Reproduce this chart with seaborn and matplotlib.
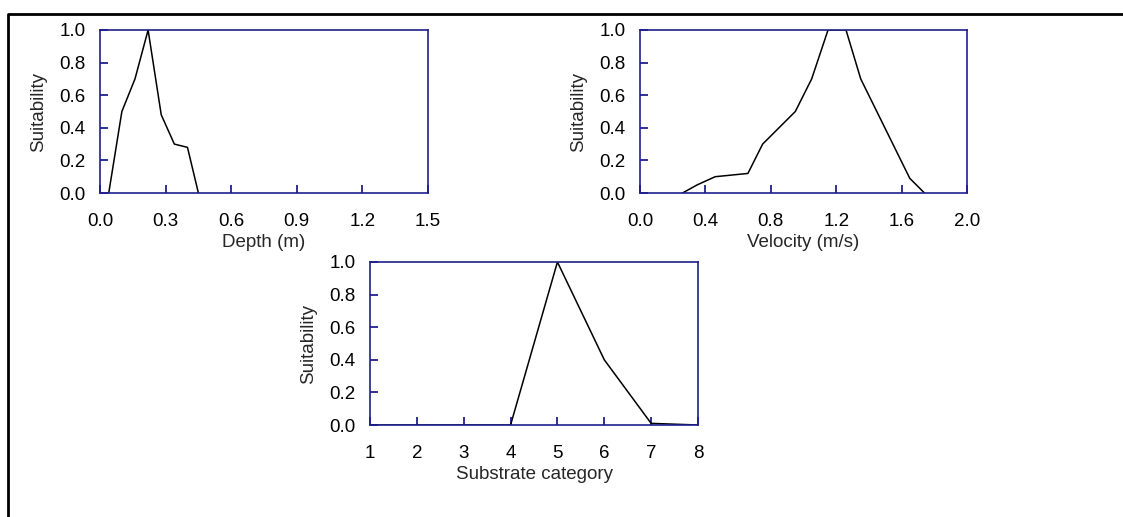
import matplotlib
matplotlib.use('Agg')
import matplotlib.pyplot as plt
import seaborn as sns
import pandas as pd
from matplotlib.lines import Line2D

# habitat suitability curves
depth_x = [0.04, 0.10, 0.16, 0.22, 0.28, 0.34, 0.40, 0.45]
depth_y = [0.0, 0.50, 0.70, 1.0, 0.48, 0.30, 0.28, 0.0]

vel_x = [0.26, 0.35, 0.46, 0.66, 0.75, 0.95, 1.05, 1.15, 1.26, 1.35, 1.65, 1.74]
vel_y = [0.0, 0.05, 0.10, 0.12, 0.30, 0.50, 0.70, 1.0, 1.0, 0.70, 0.09, 0.0]

sub_x = [1, 2, 3, 4, 5, 6, 7, 8]
sub_y = [0.0, 0.0, 0.0, 0.0, 1.0, 0.40, 0.01, 0.0]

depth_ticks = [0.0, 0.3, 0.6, 0.9, 1.2, 1.5]
vel_ticks = [0.0, 0.4, 0.8, 1.2, 1.6, 2.0]
sub_ticks = [1, 2, 3, 4, 5, 6, 7, 8]
y_ticks = [0.0, 0.2, 0.4, 0.6, 0.8, 1.0]

sns.set_style('white')
plt.rcParams['font.family'] = ['Liberation Sans', 'DejaVu Sans']

navy = '#1f1f8f'
W, H = 1123, 517
fig = plt.figure(figsize=(W / 100, H / 100), dpi=100)


def make_axes(left, top, right, bottom):
    return fig.add_axes([left / W, 1 - bottom / H, (right - left) / W, (bottom - top) / H])


def curve(ax, xs, ys, close, xlim, xticks, xlabel):
    xs = list(xs)
    ys = list(ys)
    if close:
        xs = xs + [xs[0]]
        ys = ys + [ys[0]]
    df = pd.DataFrame({'x': xs, 'y': ys})
    sns.lineplot(data=df, x='x', y='y', sort=False, color='black', linewidth=1.1, ax=ax)
    ax.set_xlim(*xlim)
    ax.set_ylim(0, 1.0)
    ax.set_xticks(xticks)
    ax.set_yticks(y_ticks)
    if isinstance(xticks[0], int):
        ax.set_xticklabels([str(t) for t in xticks])
    else:
        ax.set_xticklabels([f'{t:.1f}' for t in xticks])
    ax.set_yticklabels([f'{t:.1f}' for t in y_ticks])
    ax.tick_params(axis='both', direction='in', length=6, width=1.3, color=navy,
                   labelsize=13.5, labelcolor='black', bottom=True, left=True)
    ax.tick_params(axis='x', pad=14.5)
    ax.tick_params(axis='y', pad=10.5)
    for s in ax.spines.values():
        s.set_color(navy)
        s.set_linewidth(1.2)
        s.set_visible(True)
    ax.set_xlabel(xlabel, fontsize=13.5, labelpad=3)
    ax.set_ylabel('Suitability', fontsize=13.5, labelpad=9)


ax1 = make_axes(100, 30, 428, 193)
curve(ax1, depth_x, depth_y, True, (0, 1.5), depth_ticks, 'Depth (m)')

ax2 = make_axes(640, 30, 967, 193)
curve(ax2, vel_x, vel_y, True, (0, 2.0), vel_ticks, 'Velocity (m/s)')

ax3 = make_axes(370, 262, 698, 425)
curve(ax3, sub_x, sub_y, False, (1, 8), sub_ticks, 'Substrate category')

# frame lines on the top and left of the figure
fig.add_artist(Line2D([7.5 / W, 7.5 / W, 1.0], [0.0, 1 - 14 / H, 1 - 14 / H],
                      transform=fig.transFigure, color='black', linewidth=2))

fig.savefig('out.png', dpi=100)
